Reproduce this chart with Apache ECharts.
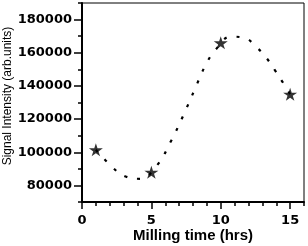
<!DOCTYPE html>
<html>
<head>
<meta charset="utf-8">
<script src="https://cdn.jsdelivr.net/npm/echarts@6/dist/echarts.min.js"></script>
<style>
  html, body { margin: 0; padding: 0; background: #fff; }
  #chart { width: 308px; height: 246px; }
</style>
</head>
<body>
<div id="chart"></div>
<script>
  // measured points (stars)
  const millingTime = [1, 5, 10, 15];
  const intensity = [101500, 88000, 166000, 135000];

  // dotted guide curve
  const curveX = [1, 2.2, 3.1, 4.2, 5.4, 6.45, 7.3, 8.1, 8.9, 9.6, 10.7, 11.7, 12.6, 13.3, 13.9, 14.45, 15];
  const curveY = [101500, 90900, 85500, 84000, 92000, 107300, 122200, 137400, 152500, 161500, 169700, 169000, 163200, 156800, 149500, 142400, 135000];

  // axis ticks
  const xMajor = [0, 5, 10, 15];
  const xMinor = [1, 2, 3, 4, 6, 7, 8, 9, 11, 12, 13, 14, 16];
  const yMajor = [80000, 100000, 120000, 140000, 160000, 180000];
  const yMinor = [70000, 90000, 110000, 130000, 150000, 170000, 190000];

  const star = 'path://M50,0 L61,35 L98,35 L68,57 L79,91 L50,70 L21,91 L32,57 L2,35 L39,35 Z';

  const labelFont = {
    color: '#000',
    fontFamily: 'DejaVu Sans',
    fontWeight: 'bold',
    fontSize: 13,
    formatter: (v) => String(v),
  };

  const myChart = echarts.init(document.getElementById('chart'));

  const option = {
    animation: false,
    grid: {
      left: 82,
      right: 4,
      top: 3,
      bottom: 44,
      outerBoundsMode: 'none',
      show: true,
      borderColor: '#000',
      borderWidth: 1,
    },
    xAxis: [{
        type: 'value',
        min: 0,
        max: 16,
        position: 'bottom',
        name: 'Milling time (hrs)',
        nameLocation: 'middle',
        nameGap: 26,
        nameMoveOverlap: false,
        nameTextStyle: {
          color: '#000',
          fontFamily: 'Liberation Sans',
          fontWeight: 'bold',
          fontSize: 15,
        },
        axisLine: { lineStyle: { color: '#000', width: 2 } },
        axisTick: { customValues: xMajor, length: 7, lineStyle: { color: '#000', width: 1.5 } },
        axisLabel: Object.assign({ customValues: xMajor, margin: 12 }, labelFont),
        splitLine: { show: false },
      },
      {
        type: 'value',
        min: 0,
        max: 16,
        position: 'bottom',
        axisLine: { show: false },
        axisTick: { customValues: xMinor, length: 4, lineStyle: { color: '#000', width: 1.5 } },
        axisLabel: { show: false },
        splitLine: { show: false },
      },
    ],
    yAxis: [{
        type: 'value',
        min: 70000,
        max: 190000,
        position: 'left',
        name: 'Signal Intensity (arb.units)',
        nameLocation: 'middle',
        nameGap: 68,
        nameMoveOverlap: false,
        nameTextStyle: {
          color: '#000',
          fontFamily: 'Liberation Sans',
          fontSize: 12,
          padding: [0, 0, 0, 13],
        },
        axisLine: { lineStyle: { color: '#000', width: 2 } },
        axisTick: { customValues: yMajor, length: 8, lineStyle: { color: '#000', width: 1.5 } },
        axisLabel: Object.assign({ customValues: yMajor, margin: 10 }, labelFont),
        splitLine: { show: false },
      },
      {
        type: 'value',
        min: 70000,
        max: 190000,
        position: 'left',
        axisLine: { show: false },
        axisTick: { customValues: yMinor, length: 4, lineStyle: { color: '#000', width: 1.5 } },
        axisLabel: { show: false },
        splitLine: { show: false },
      },
    ],
    series: [{
        name: 'fit',
        type: 'line',
        xAxisIndex: 0,
        yAxisIndex: 0,
        data: curveX.map((x, i) => [x, curveY[i]]),
        smooth: 0.4,
        showSymbol: false,
        lineStyle: { color: '#000', width: 2.2, type: [3, 10] },
        z: 2,
      },
      {
        name: 'data',
        type: 'scatter',
        xAxisIndex: 0,
        yAxisIndex: 0,
        data: millingTime.map((x, i) => [x, intensity[i]]),
        symbol: star,
        symbolSize: [14, 13],
        itemStyle: { color: '#000' },
        z: 3,
      },
    ],
  };

  myChart.setOption(option);
</script>
</body>
</html>
